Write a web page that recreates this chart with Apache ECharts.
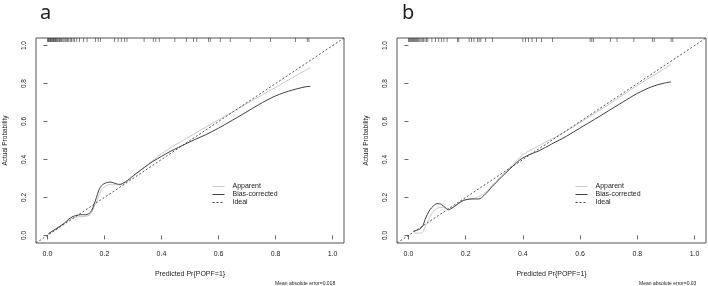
<!DOCTYPE html>
<html>
<head>
<meta charset="utf-8">
<script src="https://cdn.jsdelivr.net/npm/echarts@6/dist/echarts.min.js"></script>
<style>html,body{margin:0;padding:0;background:#fff}#c{width:708px;height:286px}</style>
</head>
<body>
<div id="c"></div>
<script>
// ---- data ----
const tickVals = [0, 0.2, 0.4, 0.6, 0.8, 1.0];
const idealX = [-0.04, 1.04];

const appA_x = [0.003, 0.03, 0.06, 0.09, 0.11, 0.13, 0.15, 0.17, 0.19, 0.21, 0.23, 0.25, 0.27, 0.3, 0.35, 0.4, 0.45, 0.5, 0.556, 0.6, 0.7, 0.8, 0.87, 0.922];
const appA_y = [0.01, 0.035, 0.065, 0.092, 0.098, 0.1, 0.11, 0.17, 0.24, 0.265, 0.27, 0.265, 0.275, 0.31, 0.372, 0.43, 0.478, 0.522, 0.571, 0.609, 0.695, 0.78, 0.84, 0.884];
const biasA_x = [0.003, 0.02, 0.04, 0.06, 0.075, 0.09, 0.1, 0.11, 0.122, 0.134, 0.145, 0.155, 0.163, 0.172, 0.181, 0.19, 0.198, 0.21, 0.222, 0.232, 0.242, 0.25, 0.258, 0.268, 0.281, 0.295, 0.31, 0.34, 0.37, 0.4, 0.43, 0.46, 0.49, 0.52, 0.556, 0.6, 0.65, 0.7, 0.74, 0.77, 0.8, 0.83, 0.86, 0.89, 0.91, 0.922];
const biasA_y = [0.008, 0.025, 0.044, 0.065, 0.086, 0.1, 0.104, 0.108, 0.109, 0.109, 0.114, 0.13, 0.162, 0.2, 0.241, 0.262, 0.272, 0.279, 0.281, 0.277, 0.272, 0.269, 0.27, 0.277, 0.29, 0.307, 0.325, 0.358, 0.39, 0.416, 0.442, 0.464, 0.486, 0.507, 0.531, 0.565, 0.608, 0.652, 0.688, 0.713, 0.735, 0.752, 0.766, 0.778, 0.784, 0.785];

const appB_x = [0.02, 0.045, 0.06, 0.08, 0.097, 0.116, 0.14, 0.16, 0.18, 0.2, 0.23, 0.26, 0.29, 0.32, 0.36, 0.4, 0.45, 0.5, 0.552, 0.6, 0.7, 0.8, 0.87, 0.918];
const appB_y = [0.012, 0.012, 0.05, 0.11, 0.14, 0.148, 0.138, 0.15, 0.172, 0.188, 0.196, 0.215, 0.26, 0.305, 0.365, 0.425, 0.468, 0.508, 0.55, 0.595, 0.69, 0.79, 0.855, 0.9];
const biasB_x = [0.016, 0.03, 0.04, 0.05, 0.058, 0.066, 0.075, 0.087, 0.099, 0.108, 0.116, 0.128, 0.14, 0.155, 0.169, 0.181, 0.193, 0.208, 0.222, 0.235, 0.246, 0.255, 0.263, 0.278, 0.293, 0.316, 0.34, 0.363, 0.387, 0.405, 0.43, 0.457, 0.5, 0.552, 0.6, 0.65, 0.7, 0.75, 0.8, 0.85, 0.89, 0.918];
const biasB_y = [0.021, 0.028, 0.034, 0.05, 0.083, 0.11, 0.135, 0.155, 0.167, 0.167, 0.162, 0.148, 0.135, 0.147, 0.162, 0.175, 0.185, 0.19, 0.192, 0.192, 0.192, 0.198, 0.209, 0.232, 0.258, 0.293, 0.329, 0.362, 0.395, 0.413, 0.43, 0.446, 0.481, 0.522, 0.566, 0.611, 0.657, 0.703, 0.748, 0.783, 0.801, 0.809];

const rugA = [0.0, 0.003, 0.005, 0.008, 0.01, 0.012, 0.015, 0.018, 0.02, 0.022, 0.025, 0.028, 0.03, 0.033, 0.036, 0.04, 0.043, 0.046, 0.05, 0.054, 0.058, 0.062, 0.066, 0.07, 0.075, 0.08, 0.085, 0.09, 0.095, 0.103, 0.113, 0.127, 0.139, 0.168, 0.178, 0.186, 0.236, 0.248, 0.259, 0.271, 0.279, 0.339, 0.371, 0.38, 0.392, 0.447, 0.488, 0.512, 0.524, 0.565, 0.571, 0.606, 0.641, 0.711, 0.782, 0.87, 0.911, 0.917];
const rugB = [0.0, 0.003, 0.006, 0.009, 0.012, 0.015, 0.018, 0.021, 0.025, 0.028, 0.032, 0.036, 0.04, 0.044, 0.048, 0.053, 0.058, 0.063, 0.068, 0.082, 0.094, 0.106, 0.115, 0.124, 0.135, 0.171, 0.176, 0.212, 0.22, 0.229, 0.241, 0.247, 0.253, 0.27, 0.294, 0.4, 0.409, 0.42, 0.432, 0.447, 0.465, 0.504, 0.635, 0.641, 0.647, 0.706, 0.729, 0.788, 0.853, 0.859, 0.918, 0.924];

const panelLabels = ['a', 'b'];
const maeLabels = ['Mean absolute error=0.018', 'Mean absolute error=0.03'];
const legendNames = ['Apparent', 'Bias-corrected', 'Ideal'];
const xTitle = 'Predicted Pr{POPF=1}';
const yTitle = 'Actual Probability';

// ---- chart ----
const FONT = 'Liberation Sans, Arial, sans-serif';
const zip = (xs, ys) => xs.map((x, i) => [x, ys[i]]);
const chart = echarts.init(document.getElementById('c'), null, {renderer: 'canvas'});

function xAxisFor(gi) {
  return {
    gridIndex: gi, type: 'value', min: -0.04, max: 1.04,
    name: xTitle, nameLocation: 'middle', nameGap: 28,
    nameTextStyle: {fontFamily: FONT, fontSize: 7, color: '#222'},
    axisLine: {show: false},
    splitLine: {show: false},
    axisTick: {show: true, length: 4, inside: false, customValues: tickVals, lineStyle: {color: '#444', width: 0.8}},
    axisLabel: {customValues: tickVals, margin: 8, fontFamily: FONT, fontSize: 7, color: '#222',
      formatter: v => v.toFixed(1)}
  };
}
function yAxisFor(gi) {
  return {
    gridIndex: gi, type: 'value', min: -0.04, max: 1.04,
    name: yTitle, nameLocation: 'middle', nameGap: 27, nameRotate: 90,
    nameTextStyle: {fontFamily: FONT, fontSize: 6.5, color: '#222'},
    axisLine: {show: false},
    splitLine: {show: false},
    axisTick: {show: true, length: 4, inside: false, customValues: tickVals, lineStyle: {color: '#444', width: 0.8}},
    axisLabel: {customValues: tickVals, margin: 8, rotate: 90, fontFamily: FONT, fontSize: 6.5, color: '#222',
      formatter: v => v.toFixed(1)}
  };
}

function panelSeries(gi, appX, appY, biasX, biasY, rug) {
  return [
    {name: 'Apparent', type: 'line', xAxisIndex: gi, yAxisIndex: gi, data: zip(appX, appY),
      smooth: 0.3, symbol: 'none', lineStyle: {color: '#c9c9c9', width: 1}, itemStyle: {color: '#c9c9c9'}, z: 2},
    {name: 'Bias-corrected', type: 'line', xAxisIndex: gi, yAxisIndex: gi, data: zip(biasX, biasY),
      smooth: 0.3, symbol: 'none', lineStyle: {color: '#404040', width: 1}, itemStyle: {color: '#404040'}, z: 3},
    {name: 'Ideal', type: 'line', xAxisIndex: gi, yAxisIndex: gi, data: zip(idealX, idealX),
      symbol: 'none', lineStyle: {color: '#444', width: 0.9, type: [2, 2]}, itemStyle: {color: '#444'}, z: 4},
    {name: 'rug' + gi, type: 'scatter', xAxisIndex: gi, yAxisIndex: gi, data: rug.map(v => [v, 1.04]),
      symbol: 'rect', symbolSize: [0.7, 4], symbolOffset: [0, 2], clip: false,
      itemStyle: {color: '#222'}, silent: true, z: 5}
  ];
}

function legendFor(left) {
  return {
    data: legendNames, orient: 'vertical', left: left, top: 178,
    itemWidth: 12, itemHeight: 7, itemGap: 1,
    itemStyle: {opacity: 0},
    lineStyle: {opacity: 1, width: 1},
    textStyle: {fontFamily: FONT, fontSize: 7, color: '#222', padding: [0, 0, 0, 3]}
  };
}

const option = {
  animation: false,
  backgroundColor: '#fff',
  title: [
    {text: panelLabels[0], left: 35, top: -2, textStyle: {fontFamily: 'Noto Sans, sans-serif', fontSize: 20, fontWeight: 'normal', color: '#222'}},
    {text: panelLabels[1], left: 397, top: -2, textStyle: {fontFamily: 'Noto Sans, sans-serif', fontSize: 20, fontWeight: 'normal', color: '#222'}},
    {text: maeLabels[0], left: 270, top: 276, textStyle: {fontFamily: FONT, fontSize: 5, fontWeight: 'normal', color: '#222'}},
    {text: maeLabels[1], left: 634, top: 276, textStyle: {fontFamily: FONT, fontSize: 5, fontWeight: 'normal', color: '#222'}}
  ],
  legend: [legendFor(207), legendFor(570)],
  grid: [
    {left: 36, top: 38, width: 308, height: 205, show: true, borderColor: '#555', borderWidth: 1, backgroundColor: 'transparent'},
    {left: 397, top: 38, width: 309, height: 205, show: true, borderColor: '#555', borderWidth: 1, backgroundColor: 'transparent'}
  ],
  xAxis: [xAxisFor(0), xAxisFor(1)],
  yAxis: [yAxisFor(0), yAxisFor(1)],
  series: [].concat(
    panelSeries(0, appA_x, appA_y, biasA_x, biasA_y, rugA),
    panelSeries(1, appB_x, appB_y, biasB_x, biasB_y, rugB)
  )
};
chart.setOption(option);
</script>
</body>
</html>
